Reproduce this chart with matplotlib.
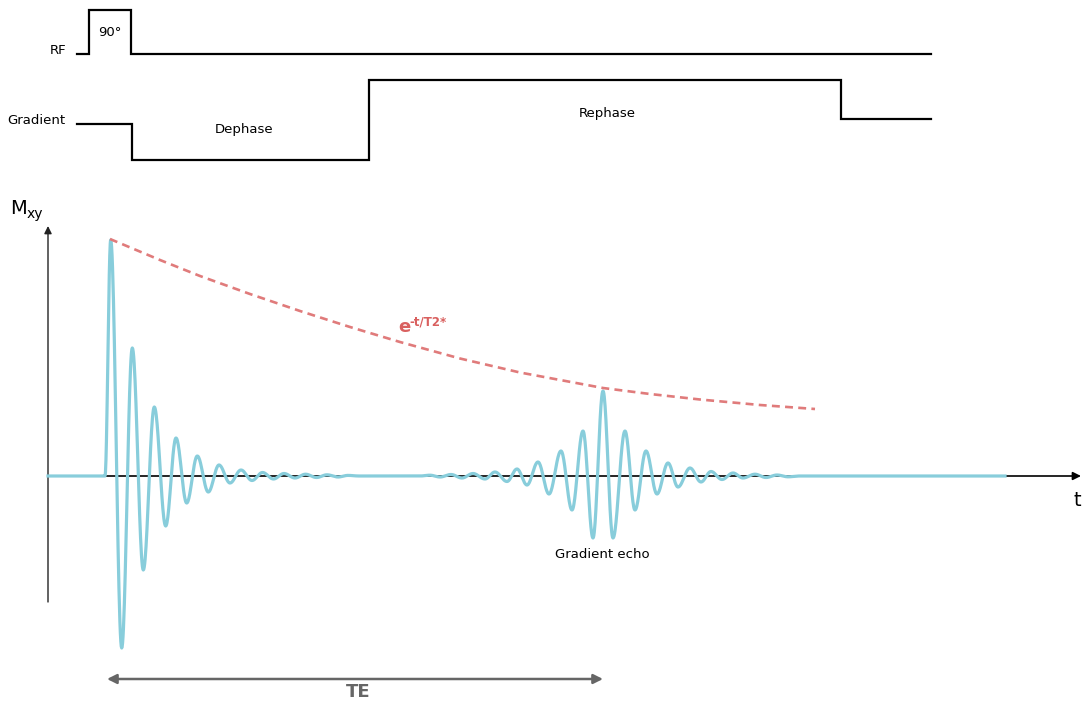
import numpy as np
import matplotlib
matplotlib.use("Agg")
import matplotlib.pyplot as plt

# ---------------- data (time axis in drawing units, amplitude above baseline) -------------
# RF pulse sequence (time, level)
rf_t = [77, 89, 89, 131, 131, 931]
rf_level = [422, 422, 466, 466, 422, 422]

# Gradient waveform (time, level)
grad_t = [77, 132, 132, 369, 369, 841, 841, 931]
grad_level = [352, 352, 316, 316, 396, 396, 357, 357]

# FID extrema (time, amplitude)
fid_t = [48, 105, 110.7, 121.7, 132.3, 143.3, 154.3, 165.7, 176, 186.7, 197.3, 208.3,
         219, 230, 241, 252, 262.5, 273.5, 284, 295, 305.5, 316.5, 327, 338, 348, 359]
fid_amp = [0, 0, 236, -172, 128, -94, 69, -50, 38, -27, 20, -16,
           11, -7, 6, -4.5, 3.5, -3, 2.5, -2, 1.8, -1.5, 1.2, -1, 0.6, 0]

# Gradient echo extrema (time, amplitude)
echo_t = [359, 420, 430, 440, 451, 462, 473, 485, 495, 507, 517, 527, 538, 549, 561, 572,
          583, 593, 603, 613, 625, 635, 646, 657, 668, 678, 690, 701, 711, 722, 733,
          743, 755, 766, 777, 788, 800, 1005]
echo_amp = [0, 0, 0.8, -1, 1.5, -2, 2.5, -3, 4, -5.5, 7, -9, 14, -18, 25, -34,
            45, -62, 85, -62, 45, -34, 25, -18, 13, -11, 8, -6, 4.5, -3.5, 3,
            -2, 1.8, -1.5, 1, -0.8, 0, 0]

# T2* envelope (time, amplitude)
env_t = [110, 160, 200, 250, 300, 350, 400, 460, 520, 603, 650, 700, 760, 815]
env_amp = [237, 216, 200, 182, 165, 149, 134, 117.5, 103.5, 88, 82, 76.5, 71, 67]

TE_start, TE_end = 107, 603

# ---------------- figure ----------------
W, H = 1083, 704
fig = plt.figure(figsize=(W / 100, H / 100), dpi=100)
ax = fig.add_axes([0, 0, 1, 1])
ax.set_xlim(0, W)
ax.set_ylim(-(H - 476), 476)
ax.axis("off")

def smooth(ts, amps, n=24):
    xs, ys = [], []
    for i in range(len(ts) - 1):
        x0, x1 = ts[i], ts[i + 1]
        a0, a1 = amps[i], amps[i + 1]
        s = np.linspace(0, 1, n, endpoint=False)
        xs.append(x0 + (x1 - x0) * s)
        ys.append(a0 + (a1 - a0) * (1 - np.cos(np.pi * s)) / 2)
    xs.append([ts[-1]]); ys.append([amps[-1]])
    return np.concatenate(xs), np.concatenate(ys)

# axes arrows
ax.annotate("", xy=(1081, 0), xytext=(48, 0),
            arrowprops=dict(arrowstyle="-|>", color="black", lw=1.2,
                            mutation_scale=12, shrinkA=0, shrinkB=0), zorder=1)
ax.annotate("", xy=(48, 250), xytext=(48, -126),
            arrowprops=dict(arrowstyle="-|>", color="#222222", lw=1.0,
                            mutation_scale=11, shrinkA=0, shrinkB=0), zorder=1)

# pulse sequence
ax.plot(rf_t, rf_level, color="black", lw=1.6, solid_joinstyle="miter")
ax.plot(grad_t, grad_level, color="black", lw=1.6, solid_joinstyle="miter")

# signal
sig_color = "#88cddb"
fx, fy = smooth(fid_t, fid_amp)
ex, ey = smooth(echo_t, echo_amp)
ax.plot(np.concatenate([fx, ex]), np.concatenate([fy, ey]), color=sig_color, lw=2.3,
        zorder=3, solid_joinstyle="round")

# envelope
ax.plot(env_t, env_amp, color="#e07b7b", lw=1.9, ls=(0, (3.0, 2.0)), zorder=4)

# TE arrow
ax.annotate("", xy=(TE_end, -203), xytext=(TE_start, -203),
            arrowprops=dict(arrowstyle="<|-|>", color="#666666", lw=1.8,
                            mutation_scale=14, shrinkA=0, shrinkB=0))

# text
fs = 9.5
ax.text(66, 426, "RF", ha="right", va="center", fontsize=fs)
ax.text(110, 443, "90°", ha="center", va="center", fontsize=fs)
ax.text(36, 355, "Gradient", ha="center", va="center", fontsize=fs)
ax.text(244, 346, "Dephase", ha="center", va="center", fontsize=fs)
ax.text(607, 363, "Rephase", ha="center", va="center", fontsize=fs)
ax.text(602, -79, "Gradient echo", ha="center", va="center", fontsize=fs)
ax.text(10, 268, "M", ha="left", va="center", fontsize=14)
ax.text(27, 262, "xy", ha="left", va="center", fontsize=10)
ax.text(1077, -24, "t", ha="center", va="center", fontsize=14)
ax.text(358, -216, "TE", ha="center", va="center", fontsize=13, fontweight="bold",
        color="#666666")
ax.text(398, 149, "e", ha="left", va="center", fontsize=13, fontweight="bold",
        color="#d9605f")
ax.text(409, 154, "-t/T2*", ha="left", va="center", fontsize=8.5, fontweight="bold",
        color="#d9605f")

fig.savefig("out.png", dpi=100)
